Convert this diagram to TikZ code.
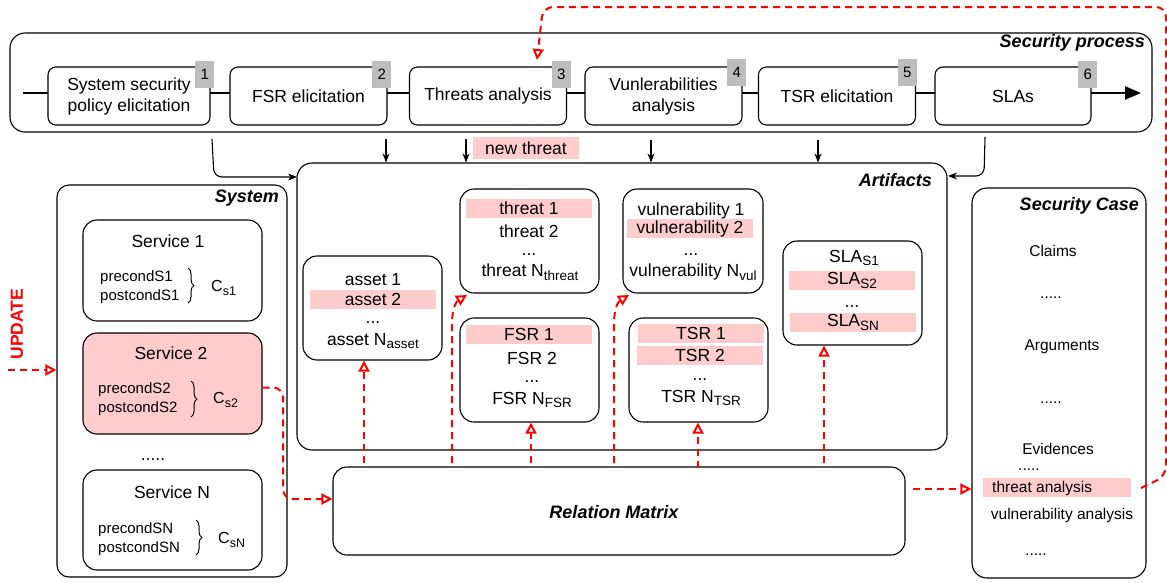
\documentclass[tikz,border=0pt]{standalone}
\usepackage{fontspec}
\setmainfont{Liberation Sans}
\usetikzlibrary{arrows.meta,decorations.pathreplacing,calc}
\definecolor{pinkb}{HTML}{FFCCCC}
\definecolor{badgegray}{HTML}{BDBDBD}
\newcommand{\sbs}[1]{\raisebox{-0.4ex}{\fontsize{13.5}{14}\selectfont #1}}
\newcommand{\sbc}[1]{\raisebox{-0.4ex}{\fontsize{12.5}{13}\selectfont #1}}
\begin{document}
\begin{tikzpicture}[x=1pt,y=-1pt,
 box/.style={draw, line width=1.1pt, rounded corners=#1, inner sep=0pt},
 box/.default=14pt,
 stepbox/.style={draw, fill=white, line width=1.1pt, rounded corners=8pt, minimum height=58pt, inner sep=0pt, align=center, font=\fontsize{17.5}{21}\selectfont},
 badgebox/.style={fill=badgegray, minimum width=19pt, minimum height=27pt, inner sep=0pt, font=\fontsize{15}{15}\selectfont, anchor=north east},
 big/.style={font=\fontsize{17.5}{21}\selectfont, inner sep=0pt},
 mid/.style={font=\fontsize{15.5}{19}\selectfont, inner sep=0pt},
 small/.style={font=\fontsize{15}{19}\selectfont, inner sep=0pt, align=left},
 ttl/.style={font=\fontsize{18}{21}\selectfont\bfseries\itshape, inner sep=0pt},
 band/.style={fill=pinkb, inner sep=0pt, minimum height=19pt},
 brc/.style={decorate, decoration={brace, amplitude=6pt}, line width=1pt},
 conn/.style={draw, line width=1.1pt, -{Stealth[length=9pt,width=7pt]}},
 redc/.style={draw=red, line width=2pt, dash pattern=on 7pt off 5pt, -{Triangle[open,length=11pt,width=11pt]}},
]
\path[use as bounding box] (0,0) rectangle (1167,582);

% ---------- Security process ----------
\node[box=15pt, minimum width=1142pt, minimum height=99pt] (sp) at (581,82.5) {};
\node[ttl, anchor=east] (sptitle) at (1145,43) {Security process};
\coordinate (lstart) at (23,93);
\coordinate (lend) at (1141,93);
\draw[line width=2.4pt, -{Triangle[length=16pt,width=13pt]}] (lstart) -- (lend);

\node[stepbox, minimum width=162pt] (s1) at (129,96) {System security\\policy elicitation};
\node[stepbox, minimum width=157pt] (s2) at (308.5,96) {FSR elicitation};
\node[stepbox, minimum width=157pt] (s3) at (488,96) {Threats analysis};
\node[stepbox, minimum width=157pt] (s4) at (663.5,96) {Vunlerabilities\\analysis};
\node[stepbox, minimum width=157pt] (s5) at (837,96) {TSR elicitation};
\node[stepbox, minimum width=156pt] (s6) at (1013,96) {SLAs};

\node[badgebox] (b1) at ([xshift=4pt,yshift=6pt]s1.north east) {1};
\node[badgebox] (b2) at ([xshift=4pt,yshift=6pt]s2.north east) {2};
\node[badgebox] (b3) at ([xshift=4pt,yshift=6pt]s3.north east) {3};
\node[badgebox] (b4) at ([xshift=4pt,yshift=8pt]s4.north east) {4};
\node[badgebox] (b5) at ([xshift=1pt,yshift=8pt]s5.north east) {5};
\node[badgebox] (b6) at ([xshift=6pt,yshift=6pt]s6.north east) {6};

% ---------- Artifacts ----------
\node[box=15pt, minimum width=650pt, minimum height=287pt] (art) at (622,306.5) {};
\node[ttl, anchor=east] (arttitle) at (932,180) {Artifacts};

\node[band, minimum width=106pt, minimum height=22pt, font=\fontsize{17.5}{21}\selectfont] (nt) at (526,148) {new threat};

% arrows from process to artifacts
\coordinate (d1) at (386,139);
\coordinate (d2) at (466,139);
\coordinate (d3) at (651,140);
\coordinate (d4) at (818,140);
\draw[conn] (d1) -- (d1 |- art.north);
\draw[conn] (d2) -- (d2 |- art.north);
\draw[conn] (d3) -- (d3 |- art.north);
\draw[conn] (d4) -- (d4 |- art.north);
\coordinate (lc0) at (212,139);
\coordinate (lc1) at (214,177);
\coordinate (lce) at (297,177);
\draw[conn, rounded corners=8pt] (lc0) -- (lc1) -- (lce);
\coordinate (rc0) at (985,137);
\coordinate (rc1) at (984,176);
\coordinate (rce) at (948,176);
\draw[conn, rounded corners=8pt] (rc0) -- (rc1) -- (rce);

% asset
\node[box, minimum width=139pt, minimum height=104pt] (asset) at (372.5,308) {};
\node[big] (a1) at (373,280) {asset 1};
\node[band, minimum width=126pt, big] (a2) at (373,299.5) {asset 2};
\node[big] (a3) at (373,323) {...};
\node[big] (a4) at (373,341) {asset N\sbs{asset}};

% threat
\node[box, minimum width=139pt, minimum height=104pt] (threat) at (529.5,241) {};
\node[band, minimum width=126pt, big] (t1) at (529,208.5) {threat 1};
\node[big] (t2) at (529,231) {threat 2};
\node[big] (t3) at (529,255) {...};
\node[big] (t4) at (530,272) {threat N\sbs{threat}};

% FSR
\node[box, minimum width=139pt, minimum height=104pt] (fsr) at (529.5,370) {};
\node[band, minimum width=126pt, big] (f1) at (529,334.5) {FSR 1};
\node[big] (f2) at (532,358) {FSR 2};
\node[big] (f3) at (532,382) {...};
\node[big] (f4) at (532,400) {FSR N\sbs{FSR}};

% vulnerability
\node[box, minimum width=140pt, minimum height=104pt] (vul) at (693,241) {};
\node[big] (v1) at (691,211) {vulnerability 1};
\node[band, minimum width=126pt, big] (v2) at (690,228.5) {vulnerability 2};
\node[big] (v3) at (691,255) {...};
\node[big] (v4) at (693,272) {vulnerability N\sbs{vul}};

% TSR
\node[box, minimum width=139pt, minimum height=104pt] (tsr) at (698.5,370) {};
\node[band, minimum width=126pt, big] (ts1) at (701,333) {TSR 1};
\node[band, minimum width=126pt, big] (ts2) at (700,355.5) {TSR 2};
\node[big] (ts3) at (700,380) {...};
\node[big] (ts4) at (701,398) {TSR N\sbs{TSR}};

% SLA
\node[box, minimum width=139pt, minimum height=104pt] (sla) at (852.5,293) {};
\node[big] (sl1) at (854,258) {SLA\sbs{S1}};
\node[band, minimum width=126pt, big] (sl2) at (852,280.5) {SLA\sbs{S2}};
\node[big] (sl3) at (852,307) {...};
\node[band, minimum width=126pt, big] (sl4) at (853,322.5) {SLA\sbs{SN}};

% ---------- System ----------
\node[box=12pt, minimum width=230pt, minimum height=392pt] (sys) at (172,381) {};
\node[ttl, anchor=east] (systitle) at (279,198) {System};

\node[box, minimum width=179pt, minimum height=101pt] (sv1) at (172.5,270.5) {};
\node[big] (sv1t) at (168,241) {Service 1};
\node[small, anchor=west] (sv1c) at (100,287.5) {precondS1\\postcondS1};
\draw[brc] (188,268) -- (188,303);
\node[font=\fontsize{16}{18}\selectfont, inner sep=0pt, anchor=west] (cs1) at (211,288) {C\sbc{s1}};

\node[box, fill=pinkb, minimum width=179pt, minimum height=101pt] (sv2) at (172.5,383.5) {};
\node[big] (sv2t) at (171,353) {Service 2};
\node[small, anchor=west] (sv2c) at (98,399.5) {precondS2\\postcondS2};
\draw[brc] (191,381) -- (191,417);
\node[font=\fontsize{16}{18}\selectfont, inner sep=0pt, anchor=west] (cs2) at (213,400) {C\sbc{s2}};

\node[big] (svdots) at (153,460) {.....};

\node[box, minimum width=179pt, minimum height=100pt] (svn) at (172.5,520) {};
\node[big] (svnt) at (172,492) {Service N};
\node[small, anchor=west] (svnc) at (98,539) {precondSN\\postcondSN};
\draw[brc] (196,520) -- (196,555);
\node[font=\fontsize{16}{18}\selectfont, inner sep=0pt, anchor=west] (csn) at (218,540) {C\sbc{sN}};

\node[rotate=90, text=red, font=\fontsize{17.5}{20}\selectfont\bfseries, inner sep=0pt] (upd) at (17,324) {UPDATE};
\coordinate (u0) at (8,370);
\draw[redc] (u0) -- (u0 -| sys.west);

% ---------- Security case ----------
\node[box=15pt, minimum width=174pt, minimum height=390pt] (sc) at (1059,383) {};
\node[ttl, anchor=east] (sctitle) at (1139,206) {Security Case};
\node[mid] (c1) at (1053,251) {Claims};
\node[mid] (c2) at (1051,298) {.....};
\node[mid] (c3) at (1062,347) {Arguments};
\node[mid] (c4) at (1051,403) {.....};
\node[mid] (c5) at (1058,449) {Evidences};
\node[mid] (c6) at (1029,470) {.....};
\node[band, minimum width=148pt] (ta) at (1057,487.5) {};
\node[mid, anchor=west] (tat) at (992,488) {threat analysis};
\node[mid] (c8) at (1062,515) {vulnerability analysis};
\node[mid] (c9) at (1036,555) {.....};

% ---------- Relation matrix ----------
\node[box=14pt, minimum width=572pt, minimum height=88pt] (rm) at (619,511) {};
\node[ttl] (rmt) at (614,512) {Relation Matrix};

% red connectors
\draw[redc, rounded corners=10pt] ([yshift=-4pt]sv2.east) -- (283,387.5) -- (283,499) -- ([yshift=12pt]rm.west);

\coordinate (r1) at (364,463);
\coordinate (r2) at (452,463);
\coordinate (r3) at (531,463);
\coordinate (r4) at (614,463);
\coordinate (r5) at (698,468);
\coordinate (r6) at (824,463);
\draw[redc] (r1) -- (r1 |- asset.south);
\draw[redc] (r2) -- (452,324) .. controls (452,307) and (457,301) .. (467,295);
\draw[redc] (r3) -- (r3 |- fsr.south);
\draw[redc] (r4) -- (614,324) .. controls (614,307) and (619,301) .. (629,295);
\draw[redc] (r5) -- (r5 |- tsr.south);
\draw[redc] (r6) -- (r6 |- sla.south);

\coordinate (m1) at (913,489);
\draw[redc] (m1) -- (m1 -| sc.west);

\coordinate (fb0) at (1141,488);
\coordinate (fb1) at (1166,476);
\coordinate (fb2) at (1166,7);
\coordinate (fb3) at (543,7);
\coordinate (fb4) at (537,60);
\draw[redc, rounded corners=10pt] (fb0) -- (fb1) -- (fb2) -- (fb3) -- (fb4);
\end{tikzpicture}
\end{document}
